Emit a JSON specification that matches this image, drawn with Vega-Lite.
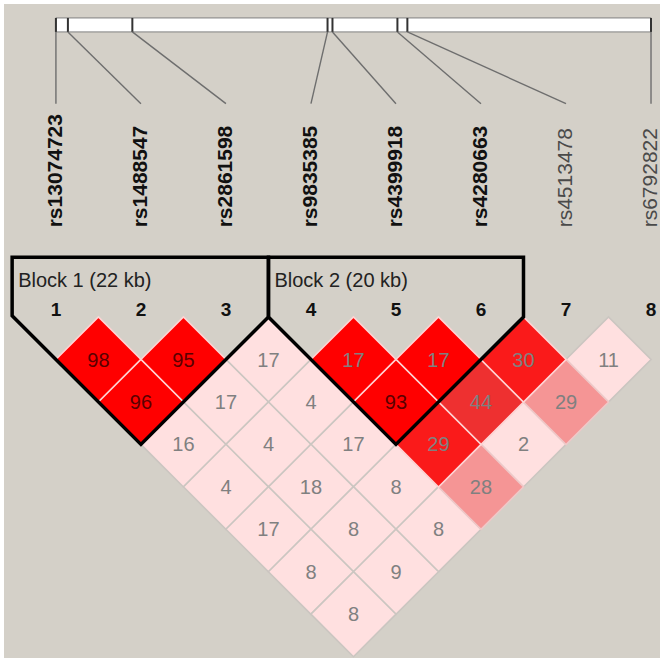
{
  "$schema": "https://vega.github.io/schema/vega-lite/v6.json",
  "width": 666,
  "height": 665,
  "autosize": {"type": "fit", "contains": "padding"},
  "padding": {"left": 4, "top": 4, "right": 5, "bottom": 5},
  "background": "#ffffff",
  "config": {"view": {"fill": "#d4d0c8", "stroke": null}, "text": {"font": "Liberation Sans"}},
  "datasets": {
    "snps": [
      {"idx": 1, "name": "rs13074723", "kb": 0, "map": 1.0, "block": 1},
      {"idx": 2, "name": "rs1488547", "kb": 3.5, "map": 1.141, "block": 1},
      {"idx": 3, "name": "rs2861598", "kb": 22, "map": 1.899, "block": 1},
      {"idx": 4, "name": "rs9835385", "kb": 78, "map": 4.195, "block": 2},
      {"idx": 5, "name": "rs4399918", "kb": 79.5, "map": 4.253, "block": 2},
      {"idx": 6, "name": "rs4280663", "kb": 98, "map": 5.017, "block": 2},
      {"idx": 7, "name": "rs4513478", "kb": 101, "map": 5.134, "block": null},
      {"idx": 8, "name": "rs6792822", "kb": 171, "map": 8.0, "block": null}
    ],
    "cells": [
      {"a": 3, "b": 4, "mid": 3.5, "sep": 1, "r2": 17, "shade": "low"},
      {"a": 7, "b": 8, "mid": 7.5, "sep": 1, "r2": 11, "shade": "low"},
      {"a": 2, "b": 4, "mid": 3.0, "sep": 2, "r2": 17, "shade": "low"},
      {"a": 3, "b": 5, "mid": 4.0, "sep": 2, "r2": 4, "shade": "low"},
      {"a": 1, "b": 4, "mid": 2.5, "sep": 3, "r2": 16, "shade": "low"},
      {"a": 2, "b": 5, "mid": 3.5, "sep": 3, "r2": 4, "shade": "low"},
      {"a": 3, "b": 6, "mid": 4.5, "sep": 3, "r2": 17, "shade": "low"},
      {"a": 5, "b": 8, "mid": 6.5, "sep": 3, "r2": 2, "shade": "low"},
      {"a": 1, "b": 5, "mid": 3.0, "sep": 4, "r2": 4, "shade": "low"},
      {"a": 2, "b": 6, "mid": 4.0, "sep": 4, "r2": 18, "shade": "low"},
      {"a": 3, "b": 7, "mid": 5.0, "sep": 4, "r2": 8, "shade": "low"},
      {"a": 1, "b": 6, "mid": 3.5, "sep": 5, "r2": 17, "shade": "low"},
      {"a": 2, "b": 7, "mid": 4.5, "sep": 5, "r2": 8, "shade": "low"},
      {"a": 3, "b": 8, "mid": 5.5, "sep": 5, "r2": 8, "shade": "low"},
      {"a": 1, "b": 7, "mid": 4.0, "sep": 6, "r2": 8, "shade": "low"},
      {"a": 2, "b": 8, "mid": 5.0, "sep": 6, "r2": 9, "shade": "low"},
      {"a": 1, "b": 8, "mid": 4.5, "sep": 7, "r2": 8, "shade": "low"},
      {"a": 6, "b": 8, "mid": 7.0, "sep": 2, "r2": 29, "shade": "s4"},
      {"a": 4, "b": 8, "mid": 6.0, "sep": 4, "r2": 28, "shade": "s4"},
      {"a": 5, "b": 7, "mid": 6.0, "sep": 2, "r2": 44, "shade": "s3"},
      {"a": 6, "b": 7, "mid": 6.5, "sep": 1, "r2": 30, "shade": "s2"},
      {"a": 4, "b": 7, "mid": 5.5, "sep": 3, "r2": 29, "shade": "s2"},
      {"a": 1, "b": 2, "mid": 1.5, "sep": 1, "r2": 98, "shade": "s1"},
      {"a": 2, "b": 3, "mid": 2.5, "sep": 1, "r2": 95, "shade": "s1"},
      {"a": 4, "b": 5, "mid": 4.5, "sep": 1, "r2": 17, "shade": "s1"},
      {"a": 5, "b": 6, "mid": 5.5, "sep": 1, "r2": 17, "shade": "s1"},
      {"a": 1, "b": 3, "mid": 2.0, "sep": 2, "r2": 96, "shade": "s1"},
      {"a": 4, "b": 6, "mid": 5.0, "sep": 2, "r2": 93, "shade": "s1"}
    ],
    "blocks": [
      {"block": 1, "pt": 1, "i": 0.485, "s": -1.41},
      {"block": 1, "pt": 2, "i": 0.485, "s": -0.03},
      {"block": 1, "pt": 3, "i": 2.0, "s": 3.0},
      {"block": 1, "pt": 4, "i": 3.5, "s": 0.0},
      {"block": 1, "pt": 5, "i": 3.5, "s": -1.41},
      {"block": 1, "pt": 6, "i": 0.485, "s": -1.41},
      {"block": 2, "pt": 1, "i": 3.5, "s": -1.41},
      {"block": 2, "pt": 2, "i": 3.5, "s": 0.0},
      {"block": 2, "pt": 3, "i": 5.0, "s": 3.0},
      {"block": 2, "pt": 4, "i": 6.5, "s": 0.0},
      {"block": 2, "pt": 5, "i": 6.5, "s": -1.41},
      {"block": 2, "pt": 6, "i": 3.5, "s": -1.41}
    ],
    "blockinfo": [
      {"block": 1, "label": "Block 1 (22 kb)", "start": 0.485},
      {"block": 2, "label": "Block 2 (20 kb)", "start": 3.5}
    ]
  },
  "layer": [
    {
      "data": {"name": "snps"},
      "mark": {"type": "rect", "fill": "#ffffff", "stroke": "#808080", "strokeWidth": 1},
      "encoding": {
        "x": {"aggregate": "min", "field": "map", "type": "quantitative", "scale": {"domain": [0.38926, 8.1057], "nice": false, "zero": false}, "axis": null},
        "x2": {"aggregate": "max", "field": "map"},
        "y": {"datum": -7.048, "type": "quantitative", "scale": {"domain": [-7.3767, 8.0331], "nice": false, "zero": false, "reverse": true}, "axis": null},
        "y2": {"datum": -6.719}
      }
    },
    {
      "data": {"name": "snps"},
      "mark": {"type": "rule", "color": "#333333", "strokeWidth": 2},
      "encoding": {
        "x": {"field": "map", "type": "quantitative", "scale": {"domain": [0.38926, 8.1057], "nice": false, "zero": false}, "axis": null},
        "y": {"datum": -7.048, "type": "quantitative", "scale": {"domain": [-7.3767, 8.0331], "nice": false, "zero": false, "reverse": true}, "axis": null},
        "y2": {"datum": -6.719}
      }
    },
    {
      "data": {"name": "snps"},
      "mark": {"type": "rule", "color": "#6e6e6e", "strokeWidth": 1.4},
      "encoding": {
        "x": {"field": "map", "type": "quantitative", "scale": {"domain": [0.38926, 8.1057], "nice": false, "zero": false}, "axis": null},
        "x2": {"field": "idx"},
        "y": {"datum": -6.719, "type": "quantitative", "scale": {"domain": [-7.3767, 8.0331], "nice": false, "zero": false, "reverse": true}, "axis": null},
        "y2": {"datum": -5.028}
      }
    },
    {
      "data": {"name": "snps"},
      "transform": [{"filter": "datum.block != null"}],
      "mark": {"type": "text", "angle": 270, "align": "left", "baseline": "middle", "fontSize": 21, "fontWeight": "bold", "color": "#111111"},
      "encoding": {
        "x": {"field": "idx", "type": "quantitative", "scale": {"domain": [0.38926, 8.1057], "nice": false, "zero": false}, "axis": null},
        "y": {"datum": -2.115, "type": "quantitative", "scale": {"domain": [-7.3767, 8.0331], "nice": false, "zero": false, "reverse": true}, "axis": null},
        "text": {"field": "name"}
      }
    },
    {
      "data": {"name": "snps"},
      "transform": [{"filter": "datum.block == null"}],
      "mark": {"type": "text", "angle": 270, "align": "left", "baseline": "middle", "fontSize": 21, "fontWeight": "normal", "color": "#4a4a4a"},
      "encoding": {
        "x": {"field": "idx", "type": "quantitative", "scale": {"domain": [0.38926, 8.1057], "nice": false, "zero": false}, "axis": null},
        "y": {"datum": -2.115, "type": "quantitative", "scale": {"domain": [-7.3767, 8.0331], "nice": false, "zero": false, "reverse": true}, "axis": null},
        "text": {"field": "name"}
      }
    },
    {
      "data": {"name": "snps"},
      "mark": {"type": "text", "align": "center", "baseline": "alphabetic", "fontSize": 19, "fontWeight": "bold", "color": "#111111"},
      "encoding": {
        "x": {"field": "idx", "type": "quantitative", "scale": {"domain": [0.38926, 8.1057], "nice": false, "zero": false}, "axis": null},
        "y": {"datum": -0.03, "type": "quantitative", "scale": {"domain": [-7.3767, 8.0331], "nice": false, "zero": false, "reverse": true}, "axis": null},
        "text": {"field": "idx"}
      }
    },
    {
      "data": {"name": "blockinfo"},
      "mark": {"type": "text", "align": "left", "baseline": "alphabetic", "fontSize": 20, "dx": 6, "color": "#222222"},
      "encoding": {
        "x": {"field": "start", "type": "quantitative", "scale": {"domain": [0.38926, 8.1057], "nice": false, "zero": false}, "axis": null},
        "y": {"datum": -0.705, "type": "quantitative", "scale": {"domain": [-7.3767, 8.0331], "nice": false, "zero": false, "reverse": true}, "axis": null},
        "text": {"field": "label"}
      }
    },
    {
      "data": {"name": "cells"},
      "mark": {"type": "point", "shape": "diamond", "size": 7249, "filled": true, "opacity": 1, "strokeWidth": 1.6},
      "encoding": {
        "x": {"field": "mid", "type": "quantitative", "scale": {"domain": [0.38926, 8.1057], "nice": false, "zero": false}, "axis": null},
        "y": {"field": "sep", "type": "quantitative", "scale": {"domain": [-7.3767, 8.0331], "nice": false, "zero": false, "reverse": true}, "axis": null},
        "fill": {"field": "shade", "type": "nominal", "scale": {"domain": ["s1", "s2", "s3", "s4", "low"], "range": ["#ff0000", "#fa1a1a", "#ee3030", "#f59595", "#ffe0e0"]}, "legend": null},
        "stroke": {"field": "shade", "type": "nominal", "scale": {"domain": ["s1", "s2", "s3", "s4", "low"], "range": ["#ffd4d4", "#ffd4d4", "#ffd4d4", "#efc8c8", "#cbc6c1"]}, "legend": null}
      }
    },
    {
      "data": {"name": "blocks"},
      "mark": {"type": "line", "color": "#000000", "strokeWidth": 3.5, "strokeJoin": "miter", "strokeCap": "square"},
      "encoding": {
        "x": {"field": "i", "type": "quantitative", "scale": {"domain": [0.38926, 8.1057], "nice": false, "zero": false}, "axis": null},
        "y": {"field": "s", "type": "quantitative", "scale": {"domain": [-7.3767, 8.0331], "nice": false, "zero": false, "reverse": true}, "axis": null},
        "detail": {"field": "block", "type": "nominal"},
        "order": {"field": "pt", "type": "quantitative"}
      }
    },
    {
      "data": {"name": "cells"},
      "mark": {"type": "text", "align": "center", "baseline": "middle", "fontSize": 20, "dy": 1},
      "encoding": {
        "x": {"field": "mid", "type": "quantitative", "scale": {"domain": [0.38926, 8.1057], "nice": false, "zero": false}, "axis": null},
        "y": {"field": "sep", "type": "quantitative", "scale": {"domain": [-7.3767, 8.0331], "nice": false, "zero": false, "reverse": true}, "axis": null},
        "text": {"field": "r2", "type": "quantitative"},
        "color": {"condition": {"test": "datum.r2 >= 90", "value": "#5a0000"}, "value": "#808080"}
      }
    }
  ]
}
